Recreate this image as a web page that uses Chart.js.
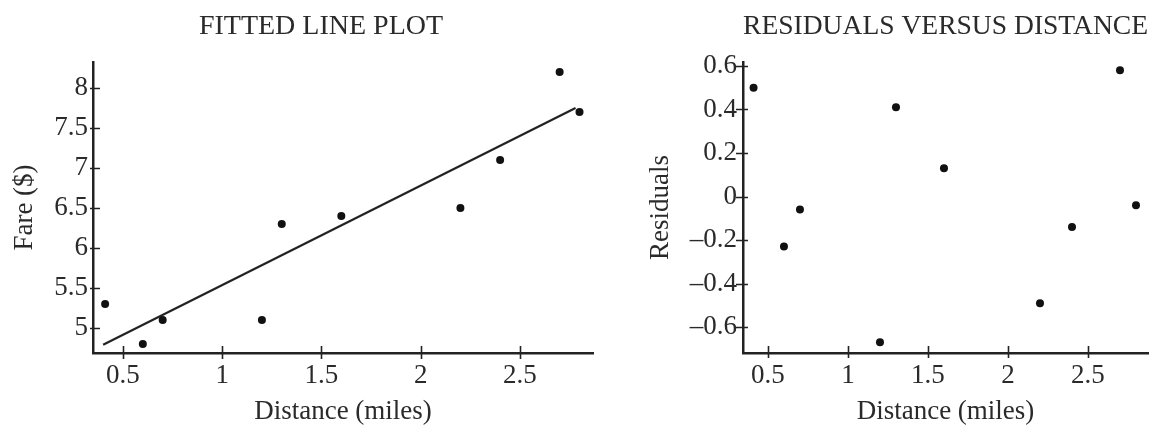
<!DOCTYPE html>
<html><head><meta charset="utf-8">
<script src="https://cdn.jsdelivr.net/npm/chart.js@4/dist/chart.umd.min.js"></script>
<style>
html,body{margin:0;padding:0;background:#fff;width:1162px;height:426px;overflow:hidden}
#w1{position:absolute;left:0;top:0;width:642px;height:426px}
#w2{position:absolute;left:600px;top:0;width:562px;height:426px}
</style></head><body>
<div id="w1"><canvas id="c1" width="642" height="426"></canvas></div>
<div id="w2"><canvas id="c2" width="562" height="426"></canvas></div>
<script>
// ---- data ----
const distance = [0.41, 0.6, 0.7, 1.2, 1.3, 1.6, 2.2, 2.4, 2.7, 2.8];
const fare = [5.3, 4.8, 5.1, 5.1, 6.3, 6.4, 6.5, 7.1, 8.2, 7.7];
const residual = [0.50, -0.23, -0.06, -0.67, 0.41, 0.13, -0.49, -0.14, 0.58, -0.04];
const fitLineX = [0.40, 2.78];
const fitLineY = [4.79, 7.75];
const distanceTicks = [0.5, 1, 1.5, 2, 2.5];
const distanceTickLabels = ['0.5', '1', '1.5', '2', '2.5'];
const fareTicks = [5, 5.5, 6, 6.5, 7, 7.5, 8];
const fareTickLabels = ['5', '5.5', '6', '6.5', '7', '7.5', '8'];
const residTicks = [-0.6, -0.4, -0.2, 0, 0.2, 0.4, 0.6];
const residTickLabels = ['\u20130.6', '\u20130.4', '\u20130.2', '0', '0.2', '0.4', '0.6'];

const INK = '#222';
const TEXT = '#2a2a2a';
const SERIF = "'Liberation Serif', 'DejaVu Serif', serif";
const tickFont = {family: SERIF, size: 27, weight: 'normal'};
const titleFont = {family: SERIF, size: 27, weight: 'normal'};
const headFont = {family: SERIF, size: 28, weight: 'normal'};

// tick marks that cross the axis line
const crossTicks = {
  id: 'crossTicks',
  afterDraw(chart, args, o) {
    const ctx = chart.ctx, xs = chart.scales.x, ys = chart.scales.y;
    const {left, bottom} = chart.chartArea;
    ctx.save();
    ctx.strokeStyle = INK; ctx.lineWidth = 1.6;
    ctx.beginPath();
    xs.ticks.forEach(t => {
      const px = Math.round(xs.getPixelForValue(t.value)) + 0.5;
      ctx.moveTo(px, bottom - o.xIn); ctx.lineTo(px, bottom + o.xOut);
    });
    ys.ticks.forEach(t => {
      const py = Math.round(ys.getPixelForValue(t.value)) + 0.5;
      ctx.moveTo(left - o.yOut, py); ctx.lineTo(left + o.yIn, py);
    });
    ctx.stroke();
    ctx.restore();
  }
};

function fixedTicks(values) {
  return scale => { scale.ticks = values.map(v => ({value: v})); };
}

function axisX(min, max) {
  return {
    type: 'linear', position: 'bottom', min, max,
    afterBuildTicks: fixedTicks(distanceTicks),
    afterFit: s => { s.height = 73; },
    grid: {display: false, drawTicks: false},
    border: {display: true, color: INK, width: 2.5},
    ticks: {font: tickFont, color: TEXT, padding: 7, maxRotation: 0, autoSkip: false,
            callback: (v, i) => distanceTickLabels[i]},
    title: {display: true, text: 'Distance (miles)', font: titleFont, color: TEXT,
            padding: {top: 0, bottom: -2}}
  };
}

new Chart(document.getElementById('c1'), {
  type: 'scatter',
  data: {
    datasets: [
      {label: 'Fare', data: distance.map((x, i) => ({x, y: fare[i]})),
       pointRadius: 4, pointBackgroundColor: '#111', pointBorderWidth: 0},
      {type: 'line', label: 'Fit', data: fitLineX.map((x, i) => ({x, y: fitLineY[i]})),
       borderColor: INK, borderWidth: 2.2, pointRadius: 0, fill: false, tension: 0}
    ]
  },
  options: {
    responsive: false, animation: false, devicePixelRatio: 1,
    layout: {padding: {left: 49, right: 49, top: 0, bottom: 0}},
    plugins: {
      legend: {display: false}, tooltip: {enabled: false},
      title: {display: true, text: 'FITTED LINE PLOT', font: headFont, color: TEXT,
              fullSize: true, padding: {top: 10, bottom: 18.4}},
      crossTicks: {xIn: 7, xOut: 6, yIn: 7, yOut: 3}
    },
    scales: {
      x: axisX(0.349, 2.868),
      y: {
        type: 'linear', min: 4.6875, max: 8.325,
        afterBuildTicks: fixedTicks(fareTicks),
        afterFit: s => { s.width = 44; },
        grid: {display: false, drawTicks: false},
        border: {display: true, color: INK, width: 2.5},
        ticks: {font: tickFont, color: TEXT, padding: 5, autoSkip: false,
                callback: (v, i) => fareTickLabels[i]},
        title: {display: true, text: 'Fare ($)', font: titleFont, color: TEXT,
                padding: {top: -40, bottom: 0}}
      }
    }
  },
  plugins: [crossTicks]
});

new Chart(document.getElementById('c2'), {
  type: 'scatter',
  data: {
    datasets: [
      {label: 'Residuals', data: distance.map((x, i) => ({x, y: residual[i]})),
       pointRadius: 4, pointBackgroundColor: '#111', pointBorderWidth: 0}
    ]
  },
  options: {
    responsive: false, animation: false, devicePixelRatio: 1,
    layout: {padding: {left: 0, right: 14, top: 0, bottom: 0}},
    plugins: {
      legend: {display: false}, tooltip: {enabled: false},
      title: {display: true, text: 'RESIDUALS VERSUS DISTANCE', font: headFont, color: TEXT,
              fullSize: false, padding: {top: 10, bottom: 18.4}},
      crossTicks: {xIn: 7, xOut: 5, yIn: 5, yOut: 7}
    },
    scales: {
      x: axisX(0.344, 2.875),
      y: {
        type: 'linear', min: -0.719, max: 0.618,
        afterBuildTicks: fixedTicks(residTicks),
        afterFit: s => { s.width = 143; },
        grid: {display: false, drawTicks: false},
        border: {display: true, color: INK, width: 2.5},
        ticks: {font: tickFont, color: TEXT, padding: 6, autoSkip: false,
                callback: (v, i) => residTickLabels[i]},
        title: {display: true, text: 'Residuals', font: titleFont, color: TEXT,
                padding: {top: 45, bottom: 0}}
      }
    }
  },
  plugins: [crossTicks]
});
</script>
</body></html>
